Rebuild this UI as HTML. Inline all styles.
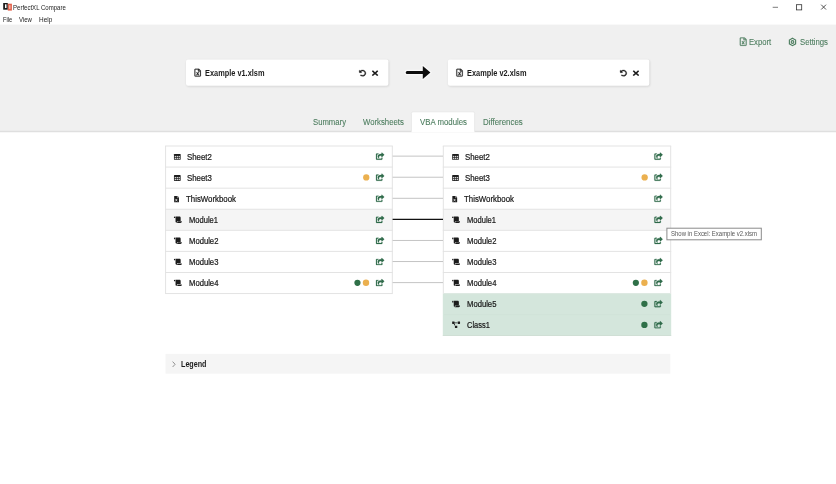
<!DOCTYPE html>
<html><head><meta charset="utf-8"><title>PerfectXL Compare</title>
<style>
html,body{margin:0;padding:0;background:#fff;}
body{width:836px;height:484px;position:relative;overflow:hidden;font-family:"Liberation Sans",sans-serif;color:#222;}
#gfx{position:absolute;left:0;top:0;}
span{position:absolute;white-space:nowrap;line-height:11px;transform-origin:0 0;}
.t{font-size:8.4px;color:#1a1a1a;-webkit-text-stroke:0.22px #1a1a1a;}
.b{font-weight:bold;font-size:8.5px;color:#1c1c1c;}
.g{color:#4d7d5f;font-size:8.3px;-webkit-text-stroke:0.1px #4d7d5f;}
.w{font-size:6.3px;color:#222;line-height:9px;}
</style></head><body>
<svg id="gfx" width="836" height="484" viewBox="0 0 836 484"><defs><filter id="bl" x="-5%" y="-20%" width="110%" height="140%"><feGaussianBlur stdDeviation="0.9"/></filter></defs>
<rect x="3.20" y="3.00" width="4.60" height="6.70" fill="#1b1b1b" />
<rect x="5.00" y="4.30" width="1.50" height="3.70" fill="#fff" />
<rect x="7.80" y="3.70" width="4.10" height="6.90" fill="#e2604a" />
<rect x="8.90" y="5.20" width="1.60" height="3.70" fill="#f2b3a8" />
<path d="M772.700 7.300h5.300" stroke="#444" stroke-width="0.700" fill="none"/>
<rect x="796.500" y="4.700" width="5.200" height="5.200" stroke="#333" stroke-width="0.800" fill="none"/>
<path d="M821.200 4.700l4.800 4.800M826 4.700l-4.800 4.800" stroke="#333" stroke-width="0.850" fill="none"/>
<rect x="0.00" y="24.60" width="836.00" height="106.60" fill="#f0f0f0" />
<path d="M0.00 131.50H836.00" stroke="#dfdfdf" stroke-width="1.3" fill="none"/>
<g transform="translate(739.80 37.50) scale(0.01771 0.01621) translate(0 0)"><path d="M369.900 97.900L286 14C277 5 264.800-.1 252.100-.1H48C21.500 0 0 21.500 0 48v416c0 26.500 21.500 48 48 48h288c26.500 0 48-21.500 48-48V131.900c0-12.700-5.100-25-14.100-34zM332.100 128H256V51.900l76.100 76.100zM48 464V48h160v104c0 13.300 10.700 24 24 24h104v288H48zm212-240h-28.800c-4.400 0-8.400 2.400-10.500 6.300-18 33.100-22.200 42.400-28.600 57.700-13.900-29.100-6.900-17.300-28.600-57.700-2.100-3.900-6.200-6.300-10.600-6.300H124c-9.300 0-15 10-10.400 18l46.300 78-46.300 78c-4.700 8 1.100 18 10.400 18h28.900c4.400 0 8.400-2.400 10.500-6.300 21.700-40 23-45 28.600-57.700 14.900 30.200 5.900 15.900 28.600 57.700 2.100 3.900 6.200 6.300 10.600 6.300H260c9.300 0 15-10 10.400-18L224 320c.7-1.100 30.300-50.500 46.300-78 4.700-8-1.100-18-10.300-18z" fill="#4d7d5f" stroke="#4d7d5f" stroke-width="10"/></g>
<g transform="translate(788.100 37.400) scale(0.36667 0.37917)"><path fill="none" stroke="#4d7d5f" stroke-width="3.100" d="M12 2.200l8.500 4.900v9.800L12 21.800l-8.500-4.900V7.100z"/><circle cx="12" cy="12" r="3.600" fill="none" stroke="#4d7d5f" stroke-width="3"/></g>
<rect x="186.60" y="60.200" width="202.40" height="26.400" rx="2" fill="#000" opacity="0.130" filter="url(#bl)"/>
<rect x="186.00" y="59.400" width="202.40" height="26.400" rx="2" fill="#fff"/>
<g transform="translate(194.50 68.80) scale(0.01641 0.01523) translate(0 0)"><path d="M369.900 97.900L286 14C277 5 264.800-.1 252.100-.1H48C21.500 0 0 21.500 0 48v416c0 26.500 21.500 48 48 48h288c26.500 0 48-21.500 48-48V131.900c0-12.700-5.100-25-14.100-34zM332.100 128H256V51.900l76.100 76.100zM48 464V48h160v104c0 13.300 10.700 24 24 24h104v288H48zm212-240h-28.800c-4.400 0-8.400 2.400-10.500 6.300-18 33.100-22.200 42.400-28.600 57.700-13.900-29.100-6.900-17.300-28.600-57.700-2.100-3.900-6.200-6.300-10.600-6.300H124c-9.300 0-15 10-10.400 18l46.300 78-46.300 78c-4.700 8 1.100 18 10.400 18h28.900c4.400 0 8.400-2.400 10.500-6.300 21.700-40 23-45 28.600-57.700 14.900 30.200 5.900 15.900 28.600 57.700 2.100 3.900 6.200 6.300 10.600 6.300H260c9.300 0 15-10 10.400-18L224 320c.7-1.100 30.300-50.500 46.300-78 4.700-8-1.100-18-10.300-18z" fill="#1c1c1c" stroke="#1c1c1c" stroke-width="12"/></g>
<g transform="translate(359.10 69.90) scale(0.01348 0.01270) translate(0 0)"><path d="M255.545 8c-66.269.119-126.438 26.233-170.860 68.685L48.971 40.971C33.851 25.851 8 36.559 8 57.941V192c0 13.255 10.745 24 24 24h134.059c21.382 0 32.090-25.851 16.971-40.971l-41.750-41.750c30.864-28.899 70.801-44.907 113.230-45.273 92.398-.798 170.283 73.977 169.484 169.442C423.236 348.009 349.816 424 256 424c-41.127 0-79.997-14.678-110.630-41.556-4.743-4.161-11.906-3.908-16.368.553L89.340 422.659c-4.872 4.872-4.631 12.815.482 17.433C133.798 479.813 192.074 504 256 504c136.966 0 247.999-111.033 248-247.998C504.001 119.193 392.354 7.755 255.545 8z" fill="#1c1c1c" stroke="#1c1c1c" stroke-width="22"/></g>
<g transform="translate(371.90 70.40) scale(0.01790 0.01591) translate(0 -80)"><path d="M242.720 256l100.070-100.070c12.280-12.280 12.280-32.190 0-44.480l-22.240-22.240c-12.280-12.280-32.190-12.280-44.480 0L176 189.280 75.930 89.210c-12.280-12.280-32.190-12.280-44.480 0L9.210 111.450c-12.280 12.280-12.280 32.190 0 44.480L109.280 256 9.210 356.070c-12.280 12.280-12.280 32.190 0 44.480l22.240 22.240c12.280 12.280 32.200 12.280 44.480 0L176 322.720l100.070 100.070c12.280 12.280 32.200 12.280 44.480 0l22.240-22.240c12.280-12.280 12.280-32.190 0-44.480L242.720 256z" fill="#1c1c1c" /></g>
<rect x="448.50" y="60.200" width="201.40" height="26.400" rx="2" fill="#000" opacity="0.130" filter="url(#bl)"/>
<rect x="447.90" y="59.400" width="201.40" height="26.400" rx="2" fill="#fff"/>
<g transform="translate(456.40 68.80) scale(0.01641 0.01523) translate(0 0)"><path d="M369.900 97.900L286 14C277 5 264.800-.1 252.100-.1H48C21.500 0 0 21.500 0 48v416c0 26.500 21.500 48 48 48h288c26.500 0 48-21.500 48-48V131.900c0-12.700-5.100-25-14.100-34zM332.100 128H256V51.900l76.100 76.100zM48 464V48h160v104c0 13.300 10.700 24 24 24h104v288H48zm212-240h-28.800c-4.400 0-8.400 2.400-10.500 6.300-18 33.100-22.200 42.400-28.600 57.700-13.900-29.100-6.900-17.300-28.600-57.700-2.100-3.900-6.200-6.300-10.600-6.300H124c-9.300 0-15 10-10.400 18l46.300 78-46.300 78c-4.700 8 1.100 18 10.400 18h28.900c4.400 0 8.400-2.400 10.500-6.300 21.700-40 23-45 28.600-57.700 14.900 30.200 5.900 15.900 28.600 57.700 2.100 3.900 6.200 6.300 10.600 6.300H260c9.300 0 15-10 10.400-18L224 320c.7-1.100 30.300-50.500 46.300-78 4.700-8-1.100-18-10.300-18z" fill="#1c1c1c" stroke="#1c1c1c" stroke-width="12"/></g>
<g transform="translate(620.00 69.90) scale(0.01348 0.01270) translate(0 0)"><path d="M255.545 8c-66.269.119-126.438 26.233-170.860 68.685L48.971 40.971C33.851 25.851 8 36.559 8 57.941V192c0 13.255 10.745 24 24 24h134.059c21.382 0 32.090-25.851 16.971-40.971l-41.750-41.750c30.864-28.899 70.801-44.907 113.230-45.273 92.398-.798 170.283 73.977 169.484 169.442C423.236 348.009 349.816 424 256 424c-41.127 0-79.997-14.678-110.630-41.556-4.743-4.161-11.906-3.908-16.368.553L89.340 422.659c-4.872 4.872-4.631 12.815.482 17.433C133.798 479.813 192.074 504 256 504c136.966 0 247.999-111.033 248-247.998C504.001 119.193 392.354 7.755 255.545 8z" fill="#1c1c1c" stroke="#1c1c1c" stroke-width="22"/></g>
<g transform="translate(632.80 70.40) scale(0.01790 0.01591) translate(0 -80)"><path d="M242.720 256l100.070-100.070c12.280-12.280 12.280-32.190 0-44.480l-22.240-22.240c-12.280-12.280-32.190-12.280-44.480 0L176 189.280 75.930 89.210c-12.280-12.280-32.190-12.280-44.480 0L9.210 111.450c-12.280 12.280-12.280 32.190 0 44.480L109.280 256 9.210 356.070c-12.280 12.280-12.280 32.190 0 44.480l22.240 22.240c12.280 12.280 32.200 12.280 44.480 0L176 322.720l100.070 100.070c12.280 12.280 32.200 12.280 44.480 0l22.240-22.240c12.280-12.280 12.280-32.190 0-44.480L242.720 256z" fill="#1c1c1c" /></g>
<path d="M407.200 71H422.800V66.100L430.400 72.500L422.800 78.900V74H407.200a1.500 1.500 0 0 1 0-3z" fill="#fff" stroke="#fff" stroke-width="2.600" stroke-linejoin="round" opacity="0.550"/>
<path d="M407.200 71H422.800V66.100L430.400 72.500L422.800 78.900V74H407.200a1.500 1.500 0 0 1 0-3z" fill="#0d0d0d"/>
<path d="M411.400 132.200V113.300a1.500 1.500 0 0 1 1.500-1.500H473.100a1.500 1.500 0 0 1 1.500 1.500V132.200z" fill="#fff"/>
<path d="M411.400 131.600V113.300a1.500 1.500 0 0 1 1.500-1.500H473.100a1.500 1.500 0 0 1 1.500 1.500V131.600" fill="none" stroke="#e6e6e6" stroke-width="0.800"/>
<rect x="165.60" y="209.24" width="226.70" height="21.08" fill="#f5f5f5" />
<path d="M165.10 146.00H392.80" stroke="#e3e3e3" stroke-width="1" fill="none"/>
<path d="M165.10 167.08H392.80" stroke="#e3e3e3" stroke-width="1" fill="none"/>
<path d="M165.10 188.16H392.80" stroke="#e3e3e3" stroke-width="1" fill="none"/>
<path d="M165.10 209.24H392.80" stroke="#e3e3e3" stroke-width="1" fill="none"/>
<path d="M165.10 230.32H392.80" stroke="#e3e3e3" stroke-width="1" fill="none"/>
<path d="M165.10 251.40H392.80" stroke="#e3e3e3" stroke-width="1" fill="none"/>
<path d="M165.10 272.48H392.80" stroke="#e3e3e3" stroke-width="1" fill="none"/>
<path d="M165.10 293.56H392.80" stroke="#e3e3e3" stroke-width="1" fill="none"/>
<path d="M165.60 146.00V293.56" stroke="#e3e3e3" stroke-width="1" fill="none"/>
<path d="M392.30 146.00V293.56" stroke="#e3e3e3" stroke-width="1" fill="none"/>
<g transform="translate(173.95 153.94) scale(0.09054 0.09219)"><rect width="74" height="64" rx="7" fill="#1c1c1c"/><rect x="8" y="21" width="15" height="14" fill="#d4d4d4"/><rect x="29.500" y="21" width="15" height="14" fill="#d4d4d4"/><rect x="51" y="21" width="15" height="14" fill="#d4d4d4"/><rect x="8" y="42" width="15" height="14" fill="#d4d4d4"/><rect x="29.500" y="42" width="15" height="14" fill="#d4d4d4"/><rect x="51" y="42" width="15" height="14" fill="#d4d4d4"/></g>
<g transform="translate(376.00 152.64) scale(0.01424 0.01367) translate(0 0)"><path d="M568.482 177.448L424.479 313.433C409.300 327.768 384 317.140 384 295.985v-71.963c-144.575.970-205.566 35.113-164.775 171.353 4.483 14.973-12.846 26.567-25.006 17.330C155.252 383.105 120 326.488 120 269.339c0-143.937 117.599-172.500 264-173.312V24.012c0-21.174 25.317-31.768 40.479-17.448l144.003 135.988c10.020 9.463 10.028 25.425 0 34.896zM384 379.128V448H64V128h50.916a11.990 11.990 0 0 0 8.648-3.693c14.953-15.568 32.237-27.890 51.014-37.676C185.708 80.830 181.584 64 169.033 64H48C21.490 64 0 85.490 0 112v352c0 26.510 21.490 48 48 48h352c26.510 0 48-21.490 48-48v-88.806c0-8.288-8.197-14.066-16.011-11.302a71.830 71.830 0 0 1-34.189 3.377c-7.270-1.046-13.800 4.514-13.800 11.859z" fill="#2f6b4a" stroke="#2f6b4a" stroke-width="16"/></g>
<g transform="translate(173.95 175.02) scale(0.09054 0.09219)"><rect width="74" height="64" rx="7" fill="#1c1c1c"/><rect x="8" y="21" width="15" height="14" fill="#d4d4d4"/><rect x="29.500" y="21" width="15" height="14" fill="#d4d4d4"/><rect x="51" y="21" width="15" height="14" fill="#d4d4d4"/><rect x="8" y="42" width="15" height="14" fill="#d4d4d4"/><rect x="29.500" y="42" width="15" height="14" fill="#d4d4d4"/><rect x="51" y="42" width="15" height="14" fill="#d4d4d4"/></g>
<g transform="translate(376.00 173.72) scale(0.01424 0.01367) translate(0 0)"><path d="M568.482 177.448L424.479 313.433C409.300 327.768 384 317.140 384 295.985v-71.963c-144.575.970-205.566 35.113-164.775 171.353 4.483 14.973-12.846 26.567-25.006 17.330C155.252 383.105 120 326.488 120 269.339c0-143.937 117.599-172.500 264-173.312V24.012c0-21.174 25.317-31.768 40.479-17.448l144.003 135.988c10.020 9.463 10.028 25.425 0 34.896zM384 379.128V448H64V128h50.916a11.990 11.990 0 0 0 8.648-3.693c14.953-15.568 32.237-27.890 51.014-37.676C185.708 80.830 181.584 64 169.033 64H48C21.490 64 0 85.490 0 112v352c0 26.510 21.490 48 48 48h352c26.510 0 48-21.490 48-48v-88.806c0-8.288-8.197-14.066-16.011-11.302a71.830 71.830 0 0 1-34.189 3.377c-7.270-1.046-13.800 4.514-13.800 11.859z" fill="#2f6b4a" stroke="#2f6b4a" stroke-width="16"/></g>
<circle cx="366.25" cy="177.42" r="3.150" fill="#ebb04f"/>
<g transform="translate(174.15 195.90) scale(0.01250 0.01230) translate(0 0)"><path d="M224 136V0H24C10.7 0 0 10.7 0 24v464c0 13.3 10.7 24 24 24h336c13.3 0 24-10.7 24-24V160H248c-13.2 0-24-10.8-24-24zm160-14.1v6.1H256V0h6.1c6.4 0 12.500 2.500 17 7l97.900 98c4.500 4.500 7 10.600 7 16.900z" fill="#1c1c1c" /></g>
<path d="M175.45 198.90l1.800 2.400M177.25 198.90l-1.800 2.400" stroke="#fff" stroke-width="0.700" fill="none"/>
<g transform="translate(376.00 194.80) scale(0.01424 0.01367) translate(0 0)"><path d="M568.482 177.448L424.479 313.433C409.300 327.768 384 317.140 384 295.985v-71.963c-144.575.970-205.566 35.113-164.775 171.353 4.483 14.973-12.846 26.567-25.006 17.330C155.252 383.105 120 326.488 120 269.339c0-143.937 117.599-172.500 264-173.312V24.012c0-21.174 25.317-31.768 40.479-17.448l144.003 135.988c10.020 9.463 10.028 25.425 0 34.896zM384 379.128V448H64V128h50.916a11.990 11.990 0 0 0 8.648-3.693c14.953-15.568 32.237-27.890 51.014-37.676C185.708 80.830 181.584 64 169.033 64H48C21.490 64 0 85.490 0 112v352c0 26.510 21.490 48 48 48h352c26.510 0 48-21.490 48-48v-88.806c0-8.288-8.197-14.066-16.011-11.302a71.830 71.830 0 0 1-34.189 3.377c-7.270-1.046-13.800 4.514-13.800 11.859z" fill="#2f6b4a" stroke="#2f6b4a" stroke-width="16"/></g>
<g transform="translate(173.95 216.48) scale(0.01234 0.01250) translate(0 0)"><path d="M48 0C21.500 0 0 21.500 0 48v64c0 8.800 7.200 16 16 16h80V48C96 21.500 74.500 0 48 0zm208 412.600V352h288V96c0-52.900-43.100-96-96-96H111.600C121.800 13.400 128 29.900 128 48v368c0 38.900 34.700 69.700 74.800 63.100 31.500-5.100 53.200-34.600 53.200-66.500zM288 384v32c0 52.900-43.100 96-96 96h336c61.900 0 112-50.100 112-112 0-8.800-7.200-16-16-16H288z" fill="#1c1c1c" /></g>
<g transform="translate(376.00 215.88) scale(0.01424 0.01367) translate(0 0)"><path d="M568.482 177.448L424.479 313.433C409.300 327.768 384 317.140 384 295.985v-71.963c-144.575.970-205.566 35.113-164.775 171.353 4.483 14.973-12.846 26.567-25.006 17.330C155.252 383.105 120 326.488 120 269.339c0-143.937 117.599-172.500 264-173.312V24.012c0-21.174 25.317-31.768 40.479-17.448l144.003 135.988c10.020 9.463 10.028 25.425 0 34.896zM384 379.128V448H64V128h50.916a11.990 11.990 0 0 0 8.648-3.693c14.953-15.568 32.237-27.890 51.014-37.676C185.708 80.830 181.584 64 169.033 64H48C21.490 64 0 85.490 0 112v352c0 26.510 21.490 48 48 48h352c26.510 0 48-21.490 48-48v-88.806c0-8.288-8.197-14.066-16.011-11.302a71.830 71.830 0 0 1-34.189 3.377c-7.270-1.046-13.800 4.514-13.800 11.859z" fill="#2f6b4a" stroke="#2f6b4a" stroke-width="16"/></g>
<g transform="translate(173.95 237.56) scale(0.01234 0.01250) translate(0 0)"><path d="M48 0C21.500 0 0 21.500 0 48v64c0 8.800 7.200 16 16 16h80V48C96 21.500 74.500 0 48 0zm208 412.600V352h288V96c0-52.900-43.100-96-96-96H111.600C121.800 13.400 128 29.900 128 48v368c0 38.900 34.700 69.700 74.800 63.100 31.500-5.100 53.200-34.600 53.200-66.500zM288 384v32c0 52.900-43.100 96-96 96h336c61.900 0 112-50.100 112-112 0-8.800-7.200-16-16-16H288z" fill="#1c1c1c" /></g>
<g transform="translate(376.00 236.96) scale(0.01424 0.01367) translate(0 0)"><path d="M568.482 177.448L424.479 313.433C409.300 327.768 384 317.140 384 295.985v-71.963c-144.575.970-205.566 35.113-164.775 171.353 4.483 14.973-12.846 26.567-25.006 17.330C155.252 383.105 120 326.488 120 269.339c0-143.937 117.599-172.500 264-173.312V24.012c0-21.174 25.317-31.768 40.479-17.448l144.003 135.988c10.020 9.463 10.028 25.425 0 34.896zM384 379.128V448H64V128h50.916a11.990 11.990 0 0 0 8.648-3.693c14.953-15.568 32.237-27.890 51.014-37.676C185.708 80.830 181.584 64 169.033 64H48C21.490 64 0 85.490 0 112v352c0 26.510 21.490 48 48 48h352c26.510 0 48-21.490 48-48v-88.806c0-8.288-8.197-14.066-16.011-11.302a71.830 71.830 0 0 1-34.189 3.377c-7.270-1.046-13.800 4.514-13.800 11.859z" fill="#2f6b4a" stroke="#2f6b4a" stroke-width="16"/></g>
<g transform="translate(173.95 258.64) scale(0.01234 0.01250) translate(0 0)"><path d="M48 0C21.500 0 0 21.500 0 48v64c0 8.800 7.200 16 16 16h80V48C96 21.500 74.500 0 48 0zm208 412.600V352h288V96c0-52.900-43.100-96-96-96H111.600C121.800 13.400 128 29.900 128 48v368c0 38.900 34.700 69.700 74.800 63.100 31.500-5.100 53.200-34.600 53.200-66.500zM288 384v32c0 52.900-43.100 96-96 96h336c61.900 0 112-50.100 112-112 0-8.800-7.200-16-16-16H288z" fill="#1c1c1c" /></g>
<g transform="translate(376.00 258.04) scale(0.01424 0.01367) translate(0 0)"><path d="M568.482 177.448L424.479 313.433C409.300 327.768 384 317.140 384 295.985v-71.963c-144.575.970-205.566 35.113-164.775 171.353 4.483 14.973-12.846 26.567-25.006 17.330C155.252 383.105 120 326.488 120 269.339c0-143.937 117.599-172.500 264-173.312V24.012c0-21.174 25.317-31.768 40.479-17.448l144.003 135.988c10.020 9.463 10.028 25.425 0 34.896zM384 379.128V448H64V128h50.916a11.990 11.990 0 0 0 8.648-3.693c14.953-15.568 32.237-27.890 51.014-37.676C185.708 80.830 181.584 64 169.033 64H48C21.490 64 0 85.490 0 112v352c0 26.510 21.490 48 48 48h352c26.510 0 48-21.490 48-48v-88.806c0-8.288-8.197-14.066-16.011-11.302a71.830 71.830 0 0 1-34.189 3.377c-7.270-1.046-13.800 4.514-13.800 11.859z" fill="#2f6b4a" stroke="#2f6b4a" stroke-width="16"/></g>
<g transform="translate(173.95 279.72) scale(0.01234 0.01250) translate(0 0)"><path d="M48 0C21.500 0 0 21.500 0 48v64c0 8.800 7.200 16 16 16h80V48C96 21.500 74.500 0 48 0zm208 412.600V352h288V96c0-52.900-43.100-96-96-96H111.600C121.800 13.400 128 29.900 128 48v368c0 38.900 34.700 69.700 74.800 63.100 31.500-5.100 53.200-34.600 53.200-66.500zM288 384v32c0 52.900-43.100 96-96 96h336c61.900 0 112-50.100 112-112 0-8.800-7.200-16-16-16H288z" fill="#1c1c1c" /></g>
<g transform="translate(376.00 279.12) scale(0.01424 0.01367) translate(0 0)"><path d="M568.482 177.448L424.479 313.433C409.300 327.768 384 317.140 384 295.985v-71.963c-144.575.970-205.566 35.113-164.775 171.353 4.483 14.973-12.846 26.567-25.006 17.330C155.252 383.105 120 326.488 120 269.339c0-143.937 117.599-172.500 264-173.312V24.012c0-21.174 25.317-31.768 40.479-17.448l144.003 135.988c10.020 9.463 10.028 25.425 0 34.896zM384 379.128V448H64V128h50.916a11.990 11.990 0 0 0 8.648-3.693c14.953-15.568 32.237-27.890 51.014-37.676C185.708 80.830 181.584 64 169.033 64H48C21.490 64 0 85.490 0 112v352c0 26.510 21.490 48 48 48h352c26.510 0 48-21.490 48-48v-88.806c0-8.288-8.197-14.066-16.011-11.302a71.830 71.830 0 0 1-34.189 3.377c-7.270-1.046-13.800 4.514-13.800 11.859z" fill="#2f6b4a" stroke="#2f6b4a" stroke-width="16"/></g>
<circle cx="357.45" cy="282.82" r="3.100" fill="#2f7048"/>
<circle cx="366.00" cy="282.82" r="3.200" fill="#ebb04f"/>
<rect x="443.30" y="209.24" width="227.40" height="21.08" fill="#f5f5f5" />
<rect x="442.80" y="293.56" width="228.40" height="21.08" fill="#d4e6dc" />
<rect x="442.80" y="314.64" width="228.40" height="21.08" fill="#d4e6dc" />
<path d="M442.80 146.00H671.20" stroke="#e3e3e3" stroke-width="1" fill="none"/>
<path d="M442.80 167.08H671.20" stroke="#e3e3e3" stroke-width="1" fill="none"/>
<path d="M442.80 188.16H671.20" stroke="#e3e3e3" stroke-width="1" fill="none"/>
<path d="M442.80 209.24H671.20" stroke="#e3e3e3" stroke-width="1" fill="none"/>
<path d="M442.80 230.32H671.20" stroke="#e3e3e3" stroke-width="1" fill="none"/>
<path d="M442.80 251.40H671.20" stroke="#e3e3e3" stroke-width="1" fill="none"/>
<path d="M442.80 272.48H671.20" stroke="#e3e3e3" stroke-width="1" fill="none"/>
<path d="M443.30 293.56H670.70" stroke="#dde8e1" stroke-width="1" fill="none"/>
<path d="M443.30 314.64H670.70" stroke="#cfe2d7" stroke-width="1" fill="none"/>
<path d="M442.80 335.52H671.20" stroke="#cbdbd1" stroke-width="0.8" fill="none"/>
<path d="M443.30 146.00V293.56" stroke="#e3e3e3" stroke-width="1" fill="none"/>
<path d="M670.70 146.00V293.56" stroke="#e3e3e3" stroke-width="1" fill="none"/>
<g transform="translate(452.15 153.94) scale(0.09054 0.09219)"><rect width="74" height="64" rx="7" fill="#1c1c1c"/><rect x="8" y="21" width="15" height="14" fill="#d4d4d4"/><rect x="29.500" y="21" width="15" height="14" fill="#d4d4d4"/><rect x="51" y="21" width="15" height="14" fill="#d4d4d4"/><rect x="8" y="42" width="15" height="14" fill="#d4d4d4"/><rect x="29.500" y="42" width="15" height="14" fill="#d4d4d4"/><rect x="51" y="42" width="15" height="14" fill="#d4d4d4"/></g>
<g transform="translate(654.40 152.64) scale(0.01424 0.01367) translate(0 0)"><path d="M568.482 177.448L424.479 313.433C409.300 327.768 384 317.140 384 295.985v-71.963c-144.575.970-205.566 35.113-164.775 171.353 4.483 14.973-12.846 26.567-25.006 17.330C155.252 383.105 120 326.488 120 269.339c0-143.937 117.599-172.500 264-173.312V24.012c0-21.174 25.317-31.768 40.479-17.448l144.003 135.988c10.020 9.463 10.028 25.425 0 34.896zM384 379.128V448H64V128h50.916a11.990 11.990 0 0 0 8.648-3.693c14.953-15.568 32.237-27.890 51.014-37.676C185.708 80.830 181.584 64 169.033 64H48C21.490 64 0 85.490 0 112v352c0 26.510 21.490 48 48 48h352c26.510 0 48-21.490 48-48v-88.806c0-8.288-8.197-14.066-16.011-11.302a71.830 71.830 0 0 1-34.189 3.377c-7.270-1.046-13.800 4.514-13.800 11.859z" fill="#2f6b4a" stroke="#2f6b4a" stroke-width="16"/></g>
<g transform="translate(452.15 175.02) scale(0.09054 0.09219)"><rect width="74" height="64" rx="7" fill="#1c1c1c"/><rect x="8" y="21" width="15" height="14" fill="#d4d4d4"/><rect x="29.500" y="21" width="15" height="14" fill="#d4d4d4"/><rect x="51" y="21" width="15" height="14" fill="#d4d4d4"/><rect x="8" y="42" width="15" height="14" fill="#d4d4d4"/><rect x="29.500" y="42" width="15" height="14" fill="#d4d4d4"/><rect x="51" y="42" width="15" height="14" fill="#d4d4d4"/></g>
<g transform="translate(654.40 173.72) scale(0.01424 0.01367) translate(0 0)"><path d="M568.482 177.448L424.479 313.433C409.300 327.768 384 317.140 384 295.985v-71.963c-144.575.970-205.566 35.113-164.775 171.353 4.483 14.973-12.846 26.567-25.006 17.330C155.252 383.105 120 326.488 120 269.339c0-143.937 117.599-172.500 264-173.312V24.012c0-21.174 25.317-31.768 40.479-17.448l144.003 135.988c10.020 9.463 10.028 25.425 0 34.896zM384 379.128V448H64V128h50.916a11.990 11.990 0 0 0 8.648-3.693c14.953-15.568 32.237-27.890 51.014-37.676C185.708 80.830 181.584 64 169.033 64H48C21.490 64 0 85.490 0 112v352c0 26.510 21.490 48 48 48h352c26.510 0 48-21.490 48-48v-88.806c0-8.288-8.197-14.066-16.011-11.302a71.830 71.830 0 0 1-34.189 3.377c-7.270-1.046-13.800 4.514-13.800 11.859z" fill="#2f6b4a" stroke="#2f6b4a" stroke-width="16"/></g>
<circle cx="644.65" cy="177.42" r="3.150" fill="#ebb04f"/>
<g transform="translate(452.35 195.90) scale(0.01250 0.01230) translate(0 0)"><path d="M224 136V0H24C10.7 0 0 10.7 0 24v464c0 13.3 10.7 24 24 24h336c13.3 0 24-10.7 24-24V160H248c-13.2 0-24-10.8-24-24zm160-14.1v6.1H256V0h6.1c6.4 0 12.500 2.500 17 7l97.900 98c4.500 4.500 7 10.600 7 16.900z" fill="#1c1c1c" /></g>
<path d="M453.65 198.90l1.800 2.400M455.45 198.90l-1.800 2.400" stroke="#fff" stroke-width="0.700" fill="none"/>
<g transform="translate(654.40 194.80) scale(0.01424 0.01367) translate(0 0)"><path d="M568.482 177.448L424.479 313.433C409.300 327.768 384 317.140 384 295.985v-71.963c-144.575.970-205.566 35.113-164.775 171.353 4.483 14.973-12.846 26.567-25.006 17.330C155.252 383.105 120 326.488 120 269.339c0-143.937 117.599-172.500 264-173.312V24.012c0-21.174 25.317-31.768 40.479-17.448l144.003 135.988c10.020 9.463 10.028 25.425 0 34.896zM384 379.128V448H64V128h50.916a11.990 11.990 0 0 0 8.648-3.693c14.953-15.568 32.237-27.890 51.014-37.676C185.708 80.830 181.584 64 169.033 64H48C21.490 64 0 85.490 0 112v352c0 26.510 21.490 48 48 48h352c26.510 0 48-21.490 48-48v-88.806c0-8.288-8.197-14.066-16.011-11.302a71.830 71.830 0 0 1-34.189 3.377c-7.270-1.046-13.800 4.514-13.800 11.859z" fill="#2f6b4a" stroke="#2f6b4a" stroke-width="16"/></g>
<g transform="translate(452.15 216.48) scale(0.01234 0.01250) translate(0 0)"><path d="M48 0C21.500 0 0 21.500 0 48v64c0 8.800 7.200 16 16 16h80V48C96 21.500 74.500 0 48 0zm208 412.600V352h288V96c0-52.900-43.100-96-96-96H111.600C121.800 13.400 128 29.900 128 48v368c0 38.900 34.700 69.700 74.800 63.100 31.500-5.100 53.200-34.600 53.200-66.500zM288 384v32c0 52.900-43.100 96-96 96h336c61.900 0 112-50.100 112-112 0-8.800-7.200-16-16-16H288z" fill="#1c1c1c" /></g>
<g transform="translate(654.40 215.88) scale(0.01424 0.01367) translate(0 0)"><path d="M568.482 177.448L424.479 313.433C409.300 327.768 384 317.140 384 295.985v-71.963c-144.575.970-205.566 35.113-164.775 171.353 4.483 14.973-12.846 26.567-25.006 17.330C155.252 383.105 120 326.488 120 269.339c0-143.937 117.599-172.500 264-173.312V24.012c0-21.174 25.317-31.768 40.479-17.448l144.003 135.988c10.020 9.463 10.028 25.425 0 34.896zM384 379.128V448H64V128h50.916a11.990 11.990 0 0 0 8.648-3.693c14.953-15.568 32.237-27.890 51.014-37.676C185.708 80.830 181.584 64 169.033 64H48C21.490 64 0 85.490 0 112v352c0 26.510 21.490 48 48 48h352c26.510 0 48-21.490 48-48v-88.806c0-8.288-8.197-14.066-16.011-11.302a71.830 71.830 0 0 1-34.189 3.377c-7.270-1.046-13.800 4.514-13.800 11.859z" fill="#2f6b4a" stroke="#2f6b4a" stroke-width="16"/></g>
<g transform="translate(452.15 237.56) scale(0.01234 0.01250) translate(0 0)"><path d="M48 0C21.500 0 0 21.500 0 48v64c0 8.800 7.200 16 16 16h80V48C96 21.500 74.500 0 48 0zm208 412.600V352h288V96c0-52.900-43.100-96-96-96H111.600C121.800 13.400 128 29.900 128 48v368c0 38.900 34.700 69.700 74.800 63.100 31.500-5.100 53.200-34.600 53.200-66.500zM288 384v32c0 52.900-43.100 96-96 96h336c61.900 0 112-50.100 112-112 0-8.800-7.200-16-16-16H288z" fill="#1c1c1c" /></g>
<g transform="translate(654.40 236.96) scale(0.01424 0.01367) translate(0 0)"><path d="M568.482 177.448L424.479 313.433C409.300 327.768 384 317.140 384 295.985v-71.963c-144.575.970-205.566 35.113-164.775 171.353 4.483 14.973-12.846 26.567-25.006 17.330C155.252 383.105 120 326.488 120 269.339c0-143.937 117.599-172.500 264-173.312V24.012c0-21.174 25.317-31.768 40.479-17.448l144.003 135.988c10.020 9.463 10.028 25.425 0 34.896zM384 379.128V448H64V128h50.916a11.990 11.990 0 0 0 8.648-3.693c14.953-15.568 32.237-27.890 51.014-37.676C185.708 80.830 181.584 64 169.033 64H48C21.490 64 0 85.490 0 112v352c0 26.510 21.490 48 48 48h352c26.510 0 48-21.490 48-48v-88.806c0-8.288-8.197-14.066-16.011-11.302a71.830 71.830 0 0 1-34.189 3.377c-7.270-1.046-13.800 4.514-13.800 11.859z" fill="#2f6b4a" stroke="#2f6b4a" stroke-width="16"/></g>
<g transform="translate(452.15 258.64) scale(0.01234 0.01250) translate(0 0)"><path d="M48 0C21.500 0 0 21.500 0 48v64c0 8.800 7.200 16 16 16h80V48C96 21.500 74.500 0 48 0zm208 412.600V352h288V96c0-52.900-43.100-96-96-96H111.600C121.800 13.400 128 29.900 128 48v368c0 38.900 34.700 69.700 74.800 63.100 31.500-5.100 53.200-34.600 53.200-66.500zM288 384v32c0 52.900-43.100 96-96 96h336c61.900 0 112-50.100 112-112 0-8.800-7.200-16-16-16H288z" fill="#1c1c1c" /></g>
<g transform="translate(654.40 258.04) scale(0.01424 0.01367) translate(0 0)"><path d="M568.482 177.448L424.479 313.433C409.300 327.768 384 317.140 384 295.985v-71.963c-144.575.970-205.566 35.113-164.775 171.353 4.483 14.973-12.846 26.567-25.006 17.330C155.252 383.105 120 326.488 120 269.339c0-143.937 117.599-172.500 264-173.312V24.012c0-21.174 25.317-31.768 40.479-17.448l144.003 135.988c10.020 9.463 10.028 25.425 0 34.896zM384 379.128V448H64V128h50.916a11.990 11.990 0 0 0 8.648-3.693c14.953-15.568 32.237-27.890 51.014-37.676C185.708 80.830 181.584 64 169.033 64H48C21.490 64 0 85.490 0 112v352c0 26.510 21.490 48 48 48h352c26.510 0 48-21.490 48-48v-88.806c0-8.288-8.197-14.066-16.011-11.302a71.830 71.830 0 0 1-34.189 3.377c-7.270-1.046-13.800 4.514-13.800 11.859z" fill="#2f6b4a" stroke="#2f6b4a" stroke-width="16"/></g>
<g transform="translate(452.15 279.72) scale(0.01234 0.01250) translate(0 0)"><path d="M48 0C21.500 0 0 21.500 0 48v64c0 8.800 7.200 16 16 16h80V48C96 21.500 74.500 0 48 0zm208 412.600V352h288V96c0-52.900-43.100-96-96-96H111.600C121.800 13.400 128 29.900 128 48v368c0 38.900 34.700 69.700 74.800 63.100 31.500-5.100 53.200-34.600 53.200-66.500zM288 384v32c0 52.900-43.100 96-96 96h336c61.900 0 112-50.100 112-112 0-8.800-7.200-16-16-16H288z" fill="#1c1c1c" /></g>
<g transform="translate(654.40 279.12) scale(0.01424 0.01367) translate(0 0)"><path d="M568.482 177.448L424.479 313.433C409.300 327.768 384 317.140 384 295.985v-71.963c-144.575.970-205.566 35.113-164.775 171.353 4.483 14.973-12.846 26.567-25.006 17.330C155.252 383.105 120 326.488 120 269.339c0-143.937 117.599-172.500 264-173.312V24.012c0-21.174 25.317-31.768 40.479-17.448l144.003 135.988c10.020 9.463 10.028 25.425 0 34.896zM384 379.128V448H64V128h50.916a11.990 11.990 0 0 0 8.648-3.693c14.953-15.568 32.237-27.890 51.014-37.676C185.708 80.830 181.584 64 169.033 64H48C21.490 64 0 85.490 0 112v352c0 26.510 21.490 48 48 48h352c26.510 0 48-21.490 48-48v-88.806c0-8.288-8.197-14.066-16.011-11.302a71.830 71.830 0 0 1-34.189 3.377c-7.270-1.046-13.800 4.514-13.800 11.859z" fill="#2f6b4a" stroke="#2f6b4a" stroke-width="16"/></g>
<circle cx="635.85" cy="282.82" r="3.100" fill="#2f7048"/>
<circle cx="644.40" cy="282.82" r="3.200" fill="#ebb04f"/>
<g transform="translate(452.15 300.80) scale(0.01234 0.01250) translate(0 0)"><path d="M48 0C21.500 0 0 21.500 0 48v64c0 8.800 7.200 16 16 16h80V48C96 21.500 74.500 0 48 0zm208 412.600V352h288V96c0-52.900-43.100-96-96-96H111.600C121.800 13.400 128 29.900 128 48v368c0 38.900 34.700 69.700 74.800 63.100 31.500-5.100 53.200-34.600 53.200-66.500zM288 384v32c0 52.900-43.100 96-96 96h336c61.900 0 112-50.100 112-112 0-8.800-7.200-16-16-16H288z" fill="#1c1c1c" /></g>
<g transform="translate(654.40 300.20) scale(0.01424 0.01367) translate(0 0)"><path d="M568.482 177.448L424.479 313.433C409.300 327.768 384 317.140 384 295.985v-71.963c-144.575.970-205.566 35.113-164.775 171.353 4.483 14.973-12.846 26.567-25.006 17.330C155.252 383.105 120 326.488 120 269.339c0-143.937 117.599-172.500 264-173.312V24.012c0-21.174 25.317-31.768 40.479-17.448l144.003 135.988c10.020 9.463 10.028 25.425 0 34.896zM384 379.128V448H64V128h50.916a11.990 11.990 0 0 0 8.648-3.693c14.953-15.568 32.237-27.890 51.014-37.676C185.708 80.830 181.584 64 169.033 64H48C21.490 64 0 85.490 0 112v352c0 26.510 21.490 48 48 48h352c26.510 0 48-21.490 48-48v-88.806c0-8.288-8.197-14.066-16.011-11.302a71.830 71.830 0 0 1-34.189 3.377c-7.270-1.046-13.800 4.514-13.800 11.859z" fill="#2f6b4a" stroke="#2f6b4a" stroke-width="16"/></g>
<circle cx="644.40" cy="303.80" r="3.150" fill="#2f7048"/>
<g transform="translate(452.15 321.58) scale(0.01234 0.01270) translate(0 0)"><path d="M384 320H256c-17.670 0-32 14.330-32 32v128c0 17.670 14.330 32 32 32h128c17.670 0 32-14.330 32-32V352c0-17.670-14.330-32-32-32zM192 32c0-17.670-14.330-32-32-32H32C14.330 0 0 14.330 0 32v128c0 17.670 14.330 32 32 32h95.720l73.160 128.040C211.980 300.980 232.400 288 256 288h.28L192 175.510V128h224V64H192V32zM608 0H480c-17.670 0-32 14.330-32 32v128c0 17.670 14.330 32 32 32h128c17.670 0 32-14.330 32-32V32c0-17.670-14.330-32-32-32z" fill="#1c1c1c" /></g>
<g transform="translate(654.40 321.28) scale(0.01424 0.01367) translate(0 0)"><path d="M568.482 177.448L424.479 313.433C409.300 327.768 384 317.140 384 295.985v-71.963c-144.575.970-205.566 35.113-164.775 171.353 4.483 14.973-12.846 26.567-25.006 17.330C155.252 383.105 120 326.488 120 269.339c0-143.937 117.599-172.500 264-173.312V24.012c0-21.174 25.317-31.768 40.479-17.448l144.003 135.988c10.020 9.463 10.028 25.425 0 34.896zM384 379.128V448H64V128h50.916a11.990 11.990 0 0 0 8.648-3.693c14.953-15.568 32.237-27.890 51.014-37.676C185.708 80.830 181.584 64 169.033 64H48C21.490 64 0 85.490 0 112v352c0 26.510 21.490 48 48 48h352c26.510 0 48-21.490 48-48v-88.806c0-8.288-8.197-14.066-16.011-11.302a71.830 71.830 0 0 1-34.189 3.377c-7.270-1.046-13.800 4.514-13.800 11.859z" fill="#2f6b4a" stroke="#2f6b4a" stroke-width="16"/></g>
<circle cx="644.40" cy="324.88" r="3.150" fill="#2f7048"/>
<path d="M392.60 156.14H443.00" stroke="#c4c4c4" stroke-width="1" fill="none"/>
<path d="M392.60 177.22H443.00" stroke="#c4c4c4" stroke-width="1" fill="none"/>
<path d="M392.60 198.30H443.00" stroke="#c4c4c4" stroke-width="1" fill="none"/>
<path d="M392.60 219.38H443.00" stroke="#111" stroke-width="1.3" fill="none"/>
<path d="M392.60 240.46H443.00" stroke="#c4c4c4" stroke-width="1" fill="none"/>
<path d="M392.60 261.54H443.00" stroke="#c4c4c4" stroke-width="1" fill="none"/>
<path d="M392.60 282.62H443.00" stroke="#c4c4c4" stroke-width="1" fill="none"/>
<rect x="666.900" y="228.200" width="94.400" height="11.600" fill="#fff" stroke="#8a8a8a" stroke-width="1"/>
<rect x="165.50" y="353.90" width="504.80" height="19.80" fill="#f5f5f5" />
<path d="M172.600 361.600L175.100 364.300L172.600 367" stroke="#777" stroke-width="0.800" fill="none"/>
</svg>
<span class="w" style="left:13.20px;top:2.90px;transform:scaleX(0.9586)">PerfectXL Compare</span>
<span class="w" style="left:2.90px;top:15.40px;transform:scaleX(0.9157)">File</span>
<span class="w" style="left:19.10px;top:15.40px;transform:scaleX(0.9522)">View</span>
<span class="w" style="left:39.00px;top:15.40px;transform:scaleX(1.0191)">Help</span>
<span class="g" style="left:749.40px;top:36.70px;transform:scaleX(0.9256)">Export</span>
<span class="g" style="left:799.90px;top:36.70px;transform:scaleX(0.9338)">Settings</span>
<span class="b" style="left:204.80px;top:67.70px;transform:scaleX(0.8684)">Example v1.xlsm</span>
<span class="b" style="left:466.70px;top:67.70px;transform:scaleX(0.8684)">Example v2.xlsm</span>
<span class="g" style="left:312.90px;top:116.50px;transform:scaleX(0.9296)">Summary</span>
<span class="g" style="left:362.60px;top:116.50px;transform:scaleX(0.9346)">Worksheets</span>
<span class="g" style="left:420.00px;top:116.50px;transform:scaleX(0.9435)">VBA modules</span>
<span class="g" style="left:483.20px;top:116.50px;transform:scaleX(0.9515)">Differences</span>
<span class="t" style="left:186.55px;top:151.70px;transform:scaleX(0.9342)">Sheet2</span>
<span class="t" style="left:186.55px;top:172.70px;transform:scaleX(0.9342)">Sheet3</span>
<span class="t" style="left:185.75px;top:193.70px;transform:scaleX(0.9368)">ThisWorkbook</span>
<span class="t" style="left:189.05px;top:214.70px;transform:scaleX(0.9023)">Module1</span>
<span class="t" style="left:189.05px;top:235.70px;transform:scaleX(0.9147)">Module2</span>
<span class="t" style="left:189.05px;top:256.70px;transform:scaleX(0.9147)">Module3</span>
<span class="t" style="left:189.05px;top:277.70px;transform:scaleX(0.9147)">Module4</span>
<span class="t" style="left:464.75px;top:151.70px;transform:scaleX(0.9342)">Sheet2</span>
<span class="t" style="left:464.75px;top:172.70px;transform:scaleX(0.9342)">Sheet3</span>
<span class="t" style="left:463.95px;top:193.70px;transform:scaleX(0.9368)">ThisWorkbook</span>
<span class="t" style="left:467.25px;top:214.70px;transform:scaleX(0.9023)">Module1</span>
<span class="t" style="left:467.25px;top:235.70px;transform:scaleX(0.9147)">Module2</span>
<span class="t" style="left:467.25px;top:256.70px;transform:scaleX(0.9147)">Module3</span>
<span class="t" style="left:467.25px;top:277.70px;transform:scaleX(0.9147)">Module4</span>
<span class="t" style="left:467.25px;top:298.70px;transform:scaleX(0.9147)">Module5</span>
<span class="t" style="left:467.25px;top:319.70px;transform:scaleX(0.8903)">Class1</span>
<span class="w" style="left:670.70px;top:229.40px;color:#575757;font-size:6.8px;transform:scaleX(0.8790)">Show in Excel: Example v2.xlsm</span>
<span class="b" style="left:181.10px;top:358.60px;transform:scaleX(0.8434)">Legend</span>
</body></html>
